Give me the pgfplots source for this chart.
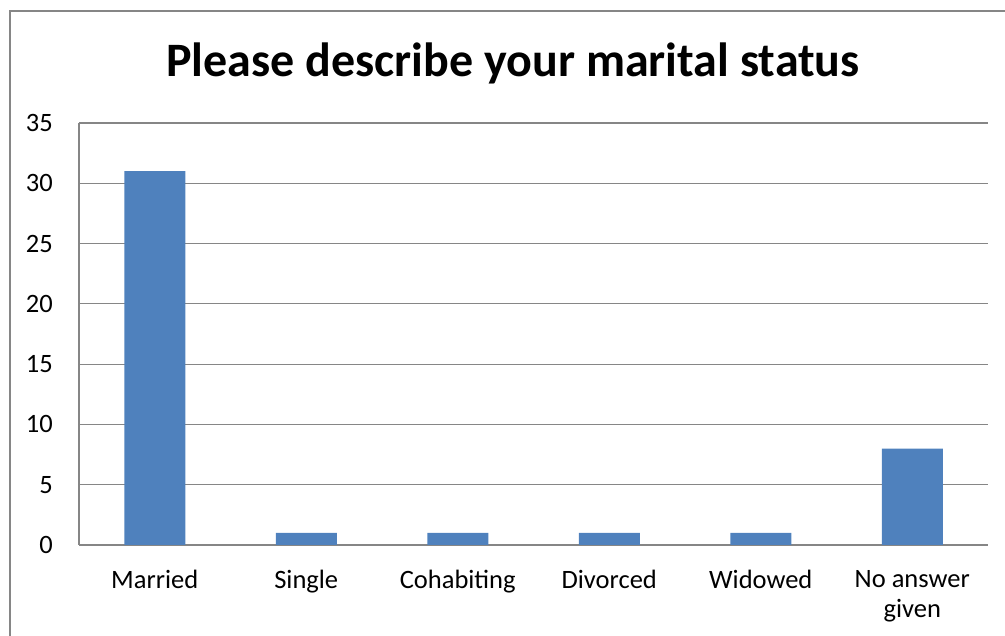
\documentclass[border=0pt]{standalone}
\usepackage{fontspec}
\setmainfont{Carlito}
\usepackage{pgfplots}
\pgfplotsset{compat=1.18}

\definecolor{barblue}{HTML}{4F81BD}
\definecolor{gridgray}{HTML}{868686}

\begin{document}
\begin{tikzpicture}[x=1pt,y=1pt]
\useasboundingbox (0,0) rectangle (1005,636);
% outer chart frame
\draw[gridgray, line width=1.4pt] (10,-10) -- (10,625) -- (1020,625);
\node[anchor=base, font=\fontsize{48}{54}\selectfont\bfseries] at (513,559) {Please describe your marital status};
\begin{axis}[
    at={(79pt,91pt)}, anchor=south west,
    scale only axis, width=909pt, height=422pt,
    ybar, bar width=61pt,
    xmin=-0.5, xmax=5.5, ymin=0, ymax=35,
    xtick=data,
    xticklabels={Married, Single, Cohabiting, Divorced, Widowed, {No answer\\given}},
    ytick={0,5,...,35},
    axis x line*=bottom, axis y line*=left,
    axis line style={gridgray, line width=1.2pt, -},
    ymajorgrids, grid style={gridgray, line width=1.2pt},
    major tick length=0pt,
    tick label style={font=\fontsize{26.5}{30}\selectfont},
    /pgf/number format/assume math mode=true,
    yticklabel style={anchor=east, inner sep=0pt, xshift=-26pt},
    xticklabel style={anchor=north, inner sep=0pt, yshift=-25pt, align=center},
]
\addplot[fill=barblue, draw=none] coordinates {(0,31) (1,1) (2,1) (3,1) (4,1) (5,8)};
\end{axis}
\end{tikzpicture}
\end{document}
